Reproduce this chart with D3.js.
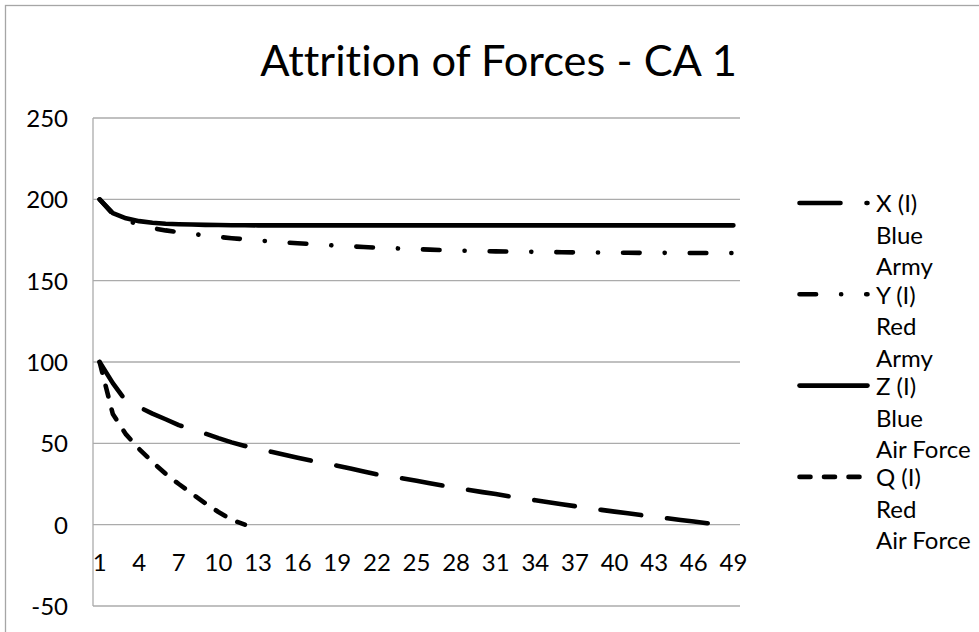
<!DOCTYPE html>
<html>
<head>
<meta charset="utf-8">
<script src="https://cdn.jsdelivr.net/npm/d3@7"></script>
<style>
  html, body { margin: 0; padding: 0; background: #fff; }
  svg { display: block; font-family: Lato, "Open Sans", sans-serif; font-variant-ligatures: none; }
  text { font-variant-ligatures: none; }
</style>
</head>
<body>
<svg id="chart" width="979" height="632"></svg>
<script>
// ---------- DATA ----------
const categories = [1,2,3,4,5,6,7,8,9,10,11,12,13,14,15,16,17,18,19,20,21,22,23,24,25,
  26,27,28,29,30,31,32,33,34,35,36,37,38,39,40,41,42,43,44,45,46,47,48,49];

const xTickLabels = [1,4,7,10,13,16,19,22,25,28,31,34,37,40,43,46,49];
const yTickValues = [-50,0,50,100,150,200,250];

// X (I) Blue Army
const seriesX = [100,87,76,72.2,68.3,64.8,61.2,58.6,56,53.2,50.6,48.4,46.5,44.8,43,41.2,39.4,37.8,36.2,34.5,
  32.7,30.9,29.6,28.4,27,25.5,24,22.6,21.3,20,18.8,17.4,16.1,15,13.8,12.6,11.4,10.2,9.1,8,
  7,5.9,4.9,3.9,2.9,1.9,0.9,0,null];
// Y (I) Red Army
const seriesY = [200,191,187,184.5,182.3,180.9,179.8,178.8,177.8,176.9,176.1,175.4,174.7,174.1,173.5,173,172.5,172,171.5,171.1,
  170.7,170.3,170,169.7,169.4,169.1,168.8,168.5,168.3,168.2,168,167.9,167.8,167.7,167.6,167.5,167.4,167.3,167.3,167.2,
  167.2,167.1,167.1,167.1,167,167,167,167,167];
// Z (I) Blue Air Force
const seriesZ = [200,191.5,188.3,186.6,185.6,185,184.7,184.5,184.3,184.2,184.1,184.1,184,184,184,184,184,184,184,184,
  184,184,184,184,184,184,184,184,184,184,184,184,184,184,184,184,184,184,184,184,
  184,184,184,184,184,184,184,184,184];
// Q (I) Red Air Force
const seriesQ = [100,68,55.5,46.5,38.5,31.3,25,19,13.2,7.8,3,0,null,null,null,null,null,null,null,null,
  null,null,null,null,null,null,null,null,null,null,null,null,null,null,null,null,null,null,null,null,
  null,null,null,null,null,null,null,null,null];

const seriesNames = ["X (I)|Blue|Army", "Y (I)|Red|Army", "Z (I)|Blue|Air Force", "Q (I)|Red|Air Force"];
const seriesDash = ["41,26", "16.6,25,0.1,25", null, "11,13.5"];
const title = "Attrition of Forces - CA 1";

// ---------- LAYOUT ----------
const svg = d3.select("#chart");
const plot = { left: 93, right: 740, top: 118, bottom: 606 };
const strokeW = 4.6;
const gridColor = "#ababab";

// chart border
svg.append("rect")
  .attr("x", 5.5).attr("y", 5.5).attr("width", 1200).attr("height", 1200)
  .attr("fill", "none").attr("stroke", "#a6a6a6").attr("stroke-width", 1.3);

// title
svg.append("text")
  .attr("x", 498.5).attr("y", 76)
  .attr("text-anchor", "middle")
  .attr("font-size", 43.4)
  .attr("fill", "#000")
  .text(title);

const x = d3.scaleBand().domain(categories).range([plot.left, plot.right]).paddingInner(0).paddingOuter(0);
const xc = c => x(c) + x.bandwidth() / 2;
const y = d3.scaleLinear().domain([-50, 250]).range([plot.bottom, plot.top]);

// gridlines
svg.append("g").selectAll("line").data(yTickValues).join("line")
  .attr("x1", plot.left).attr("x2", plot.right)
  .attr("y1", d => y(d)).attr("y2", d => y(d))
  .attr("stroke", gridColor).attr("stroke-width", 1.3);

// vertical axis line
svg.append("line")
  .attr("x1", plot.left).attr("x2", plot.left)
  .attr("y1", y(250)).attr("y2", y(-50))
  .attr("stroke", gridColor).attr("stroke-width", 1.3);

// y axis labels via d3 axis (plain hyphen for negatives)
const yAxis = d3.axisLeft(y).tickValues(yTickValues).tickSize(0).tickPadding(0)
  .tickFormat(d => String(d));
const gy = svg.append("g").attr("transform", `translate(68,0)`).call(yAxis);
gy.select(".domain").remove();
gy.selectAll("text").attr("font-size", 24).attr("font-family", "Lato, sans-serif").attr("fill", "#000").attr("dy", "0.35em");

// x axis labels via d3 axis (placed below 0 line)
const xAxis = d3.axisBottom(x).tickValues(xTickLabels).tickSize(0).tickPadding(0);
const gx = svg.append("g").attr("transform", `translate(0,${y(0) + 46})`).call(xAxis);
gx.select(".domain").remove();
gx.selectAll("text").attr("font-size", 24).attr("font-family", "Lato, sans-serif").attr("fill", "#000").attr("dy", "0");

// series lines
const allSeries = [seriesX, seriesY, seriesZ, seriesQ];
const line = d3.line()
  .defined(d => d.v !== null)
  .x(d => xc(d.c))
  .y(d => y(d.v));

allSeries.forEach((vals, i) => {
  const pts = categories.map((c, j) => ({ c: c, v: vals[j] }));
  svg.append("path")
    .attr("d", line(pts))
    .attr("fill", "none")
    .attr("stroke", "#000")
    .attr("stroke-width", strokeW)
    .attr("stroke-linecap", "round")
    .attr("stroke-linejoin", "round")
    .attr("stroke-dasharray", seriesDash[i]);
});

// legend
const legendY0 = 203, legendStep = 91.3, lineStep = 31.5;
seriesNames.forEach((name, i) => {
  const ly = legendY0 + i * legendStep;
  svg.append("line")
    .attr("x1", 799.5).attr("x2", 867.5)
    .attr("y1", ly).attr("y2", ly)
    .attr("stroke", "#000").attr("stroke-width", strokeW)
    .attr("stroke-linecap", "round")
    .attr("stroke-dasharray", seriesDash[i]);
  name.split("|").forEach((t, k) => {
    svg.append("text")
      .attr("x", 876).attr("y", ly + 1 + k * lineStep)
      .attr("dy", "0.35em")
      .attr("font-size", 24)
      .attr("fill", "#000")
      .text(t);
  });
});
</script>
</body>
</html>
